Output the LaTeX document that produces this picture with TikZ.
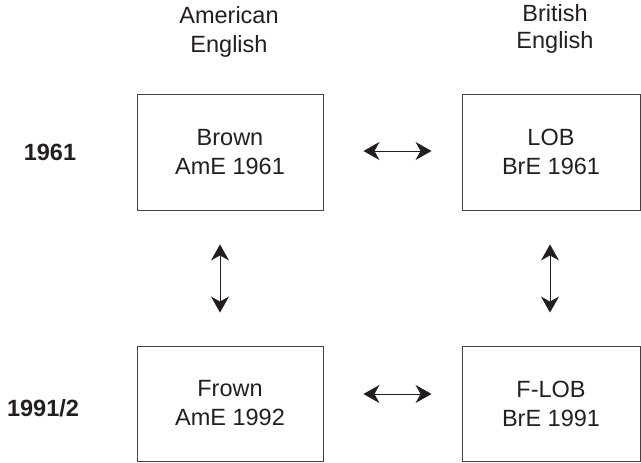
\documentclass[tikz,border=0pt]{standalone}
\usepackage{fontspec}
\setmainfont{Liberation Sans}
\usetikzlibrary{arrows.meta}
\definecolor{ink}{HTML}{231F20}
\begin{document}
\begin{tikzpicture}[x=1pt,y=-1pt,
  every node/.style={text=ink, font=\fontsize{23.5}{29}\selectfont, align=center, inner sep=0pt},
  corpus/.style={draw=ink!85, line width=0.9pt},
  twoway/.style={draw=ink, line width=1pt, {Stealth[length=16pt,width=18pt,inset=5pt]}-{Stealth[length=16pt,width=18pt,inset=5pt]}},
  rowlabel/.style={font=\fontsize{23.5}{29}\selectfont\bfseries}]
\useasboundingbox (0,0) rectangle (641,463);
\node (hAm) at (229,32) {American\\English};
\node[font=\fontsize{23.5}{27}\selectfont] (hBr) at (555,28.5) {British\\English};
\node[rowlabel] (r1) at (50,152) {1961};
\node[rowlabel] (r2) at (43,408) {1991/2};
\node[corpus, minimum width=186pt, minimum height=116pt] (brown) at (230,152) {Brown\\AmE 1961};
\node[corpus, minimum width=178pt, minimum height=116pt] (lob) at (551,152) {LOB\\BrE 1961};
\node[corpus, minimum width=186pt, minimum height=115pt] (frown) at (230,403.5) {Frown\\AmE 1992};
\node[corpus, minimum width=178pt, minimum height=115pt] (flob) at (551,403.5) {F-LOB\\BrE 1991};
\draw[twoway, shorten <=40pt, shorten >=30pt] ([yshift=1pt]brown.east) -- ([yshift=1pt]lob.west);
\draw[twoway, shorten <=40pt, shorten >=30pt] ([yshift=9.5pt]frown.east) -- ([yshift=9.5pt]flob.west);
\draw[twoway, shorten <=34pt, shorten >=33pt] ([xshift=-10pt]brown.south) -- ([xshift=-10pt]frown.north);
\draw[twoway, shorten <=34pt, shorten >=33pt] ([xshift=-1pt]lob.south) -- ([xshift=-1pt]flob.north);
\end{tikzpicture}
\end{document}
